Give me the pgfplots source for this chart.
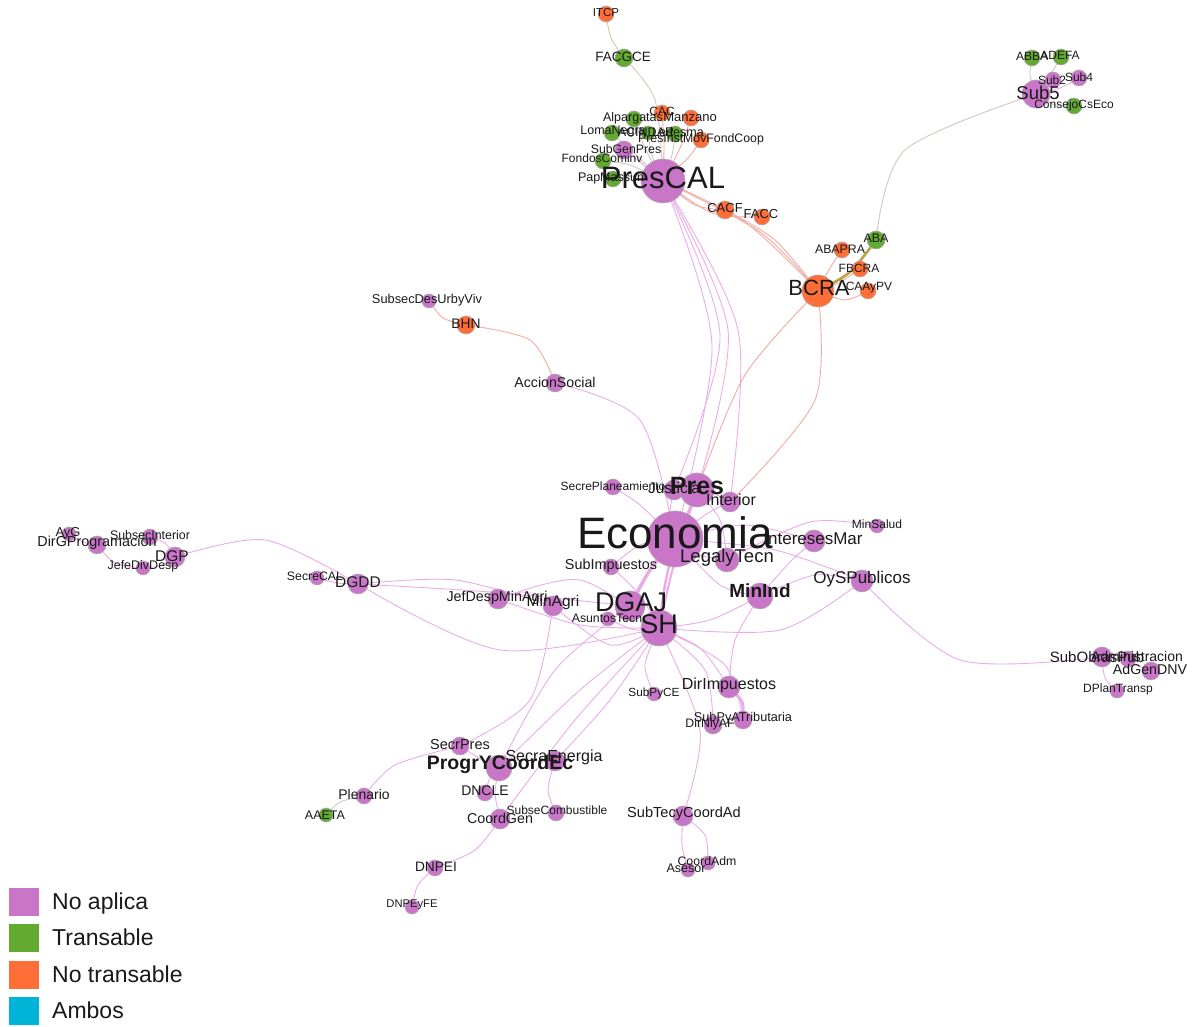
\documentclass[border=0pt]{standalone}
\usepackage{pgfplots}
\pgfplotsset{compat=1.18}
\usepackage{pgfplotstable}
\usepackage{fontspec}
\setmainfont{Liberation Sans}

\definecolor{cviolet}{RGB}{201,118,201}
\definecolor{cgreen}{RGB}{99,170,48}
\definecolor{corange}{RGB}{255,110,55}
\definecolor{ccyan}{RGB}{0,180,216}
\definecolor{cev}{RGB}{234,172,232}
\definecolor{cer}{RGB}{246,168,162}
\definecolor{ceg}{RGB}{206,201,192}
\definecolor{cey}{RGB}{218,198,152}
\definecolor{ceo}{RGB}{188,162,72}
\definecolor{labc}{RGB}{25,25,25}
\definecolor{nb}{RGB}{175,170,175}

\pgfplotstableread{
x y r
663 181 22
624 150 9
1036 94 14
1053 80 8
1079 78 8
429 301 7
555 383 9
613 487 8
674 490 10
697 490 17
730 502 10
675 539 28
727 560 12
814 541 11
877 526 7
862 581 11
760 596 13
611 567 8
630 606 15
659 628 18
608 619 7
553 606 10
498 599 10
358 584 10
317 578 7
175 557 10
150 537 8
143 568 7
97 545 9
69 534 7
1102 657 10
1128 659 8
1151 671 9
1117 691 7
729 687 11
654 694 7
743 720 9
713 725 9
460 746 9
499 768 13
555 761 10
485 793 8
500 819 10
556 813 8
364 796 8
435 868 8
412 907 7
683 816 10
708 863 7
688 870 7
}\nodesV

\pgfplotstableread{
x y r
624 58 9
634 119 8
612 133 8
648 133 7
675 134 8
603 161 8
613 179 8
1032 58 8
1061 57 8
1074 106 8
876 240 9
326 815 7
}\nodesG

\pgfplotstableread{
x y r
606 14 8
662 113 8
691 118 8
701 140 8
725 210 9
762 217 8
842 250 8
860 269 8
868 291 8
818 291 16
466 325 9
}\nodesO

\newcommand{\ed}[2]{\addplot[smooth, no markers, line width=0.9pt, color=#1] coordinates {#2};}
\newcommand{\lab}[4]{\node[anchor=center, inner sep=0pt, text=labc, font=\fontsize{#3}{#3}\selectfont] at (axis cs:#1,#2) {#4};}
\newcommand{\labb}[4]{\node[anchor=center, inner sep=0pt, text=labc, font=\bfseries\fontsize{#3}{#3}\selectfont] at (axis cs:#1,#2) {#4};}

\pgfplotsset{base/.style={width=1196pt, height=1027pt, scale only axis,
  xmin=0, xmax=1196, ymin=0, ymax=1027, y dir=reverse,
  hide axis, clip=false}}

\begin{document}
\begin{tikzpicture}
\begin{axis}[base, set layers,
  legend style={at={(axis cs:9,888)}, anchor=north west, draw=none, fill=none,
    inner sep=0pt, row sep=8.2pt,
    font=\fontsize{23}{25}\selectfont, text=labc, cells={anchor=west},
    nodes={inner sep=0pt}},
  legend image code/.code={\fill[#1, draw=none] (0pt,-14pt) rectangle (30pt,14pt); \path (43pt,0pt);},
]
\addlegendimage{fill=cviolet, draw=none}
\addlegendimage{fill=cgreen, draw=none}
\addlegendimage{fill=corange, draw=none}
\addlegendimage{fill=ccyan, draw=none}
\legend{No aplica, Transable, No transable, Ambos}
% ---- edges
\ed{cey}{(606,14) (611,38) (624,58)}
\ed{ceg}{(624,58) (655,100) (663,181)}
\ed{cer}{(663,181) (664,145) (662,113)}
\ed{cer}{(663,181) (680,148) (691,118)}
\ed{ceg}{(663,181) (645,148) (634,119)}
\ed{ceg}{(663,181) (636,155) (612,133)}
\ed{ceg}{(663,181) (652,155) (648,133)}
\ed{ceg}{(663,181) (672,155) (675,134)}
\ed{cer}{(663,181) (688,158) (701,140)}
\ed{cev}{(663,181) (640,162) (624,150)}
\ed{ceg}{(663,181) (630,165) (603,161)}
\ed{ceg}{(663,181) (638,176) (613,179)}
\ed{cer}{(663,181) (695,205) (725,210)}
\ed{cer}{(663,181) (712,213) (762,217)}
\ed{cer}{(663,181) (745,222) (818,291)}
\ed{cer}{(663,181) (760,232) (818,291)}
\ed{cer}{(725,210) (775,240) (818,291)}
\ed{cev}{(663,181) (728,330) (697,490)}
\ed{cev}{(663,181) (720,335) (674,490)}
\ed{cev}{(663,181) (712,345) (675,539)}
\ed{cev}{(663,181) (738,330) (730,502)}
\ed{cer}{(818,291) (745,375) (697,490)}
\ed{cer}{(818,291) (815,400) (730,502)}
\addplot[smooth, no markers, color=ceo, line width=2.6pt] coordinates {(818,291) (850,272) (876,240)};
\ed{cer}{(818,291) (830,268) (842,250)}
\ed{cer}{(818,291) (840,282) (860,269)}
\ed{cer}{(818,291) (845,300) (868,291)}
\ed{ceg}{(876,240) (905,150) (1036,94)}
\ed{ceg}{(1036,94) (1030,75) (1032,58)}
\ed{ceg}{(1036,94) (1050,75) (1061,57)}
\ed{cev}{(1036,94) (1046,85) (1053,80)}
\ed{cev}{(1036,94) (1060,88) (1079,78)}
\ed{ceg}{(1036,94) (1055,105) (1074,106)}
\ed{cer}{(429,301) (443,318) (466,325)}
\ed{cer}{(466,325) (530,340) (555,383)}
\ed{cev}{(555,383) (640,420) (675,539)}
\ed{cev}{(69,534) (83,542) (97,545)}
\ed{cev}{(97,545) (115,563) (143,568)}
\ed{cev}{(143,568) (160,566) (175,557)}
\ed{cev}{(150,537) (165,543) (175,557)}
\ed{cev}{(175,557) (265,540) (358,584)}
\ed{cev}{(317,578) (337,583) (358,584)}
\ed{cev}{(358,584) (455,580) (553,606)}
\ed{cev}{(358,584) (500,650) (659,628)}
\ed{cev}{(358,584) (490,592) (630,606)}
\ed{cev}{(498,599) (525,592) (553,606)}
\ed{cev}{(498,599) (580,580) (659,628)}
\ed{cev}{(498,599) (580,625) (659,628)}
\ed{cev}{(553,606) (610,645) (659,628)}
\ed{cev}{(553,606) (530,700) (460,746)}
\ed{cev}{(460,746) (395,765) (364,796)}
\ed{ceg}{(364,796) (340,802) (326,815)}
\ed{cev}{(460,746) (482,760) (499,768)}
\ed{cev}{(499,768) (580,690) (659,628)}
\ed{cev}{(499,768) (555,670) (630,606)}
\ed{cev}{(555,761) (610,700) (659,628)}
\ed{cev}{(500,819) (575,720) (659,628)}
\ed{cev}{(485,793) (490,778) (499,768)}
\ed{cev}{(500,819) (495,793) (499,768)}
\ed{cev}{(556,813) (548,790) (555,761)}
\ed{cev}{(435,868) (475,850) (500,819)}
\ed{cev}{(412,907) (418,885) (435,868)}
\ed{cev}{(659,628) (645,665) (654,694)}
\ed{cev}{(659,628) (700,648) (729,687)}
\ed{cev}{(659,628) (705,670) (713,725)}
\ed{cev}{(659,628) (725,665) (743,720)}
\addplot[smooth, no markers, color=cev, line width=3pt] coordinates {(729,687) (742,702) (743,720)};
\ed{cev}{(659,628) (700,730) (683,816)}
\ed{cev}{(683,816) (705,835) (708,863)}
\ed{cev}{(683,816) (682,845) (688,870)}
\addplot[smooth, no markers, color=cev, line width=3.5pt] coordinates {(675,539) (650,570) (630,606)};
\addplot[smooth, no markers, color=cev, line width=2.5pt] coordinates {(675,539) (665,585) (659,628)};
\addplot[smooth, no markers, color=cev, line width=2pt] coordinates {(697,490) (675,560) (659,628)};
\addplot[smooth, no markers, color=cev, line width=2pt] coordinates {(675,539) (688,512) (697,490)};
\ed{cev}{(675,539) (670,512) (674,490)}
\ed{cev}{(675,539) (705,515) (730,502)}
\ed{cev}{(675,539) (700,555) (727,560)}
\ed{cev}{(675,539) (745,525) (814,541)}
\ed{cev}{(675,539) (775,550) (862,581)}
\ed{cev}{(675,539) (720,585) (760,596)}
\ed{cev}{(675,539) (640,545) (611,567)}
\ed{cev}{(675,539) (640,505) (613,487)}
\ed{cev}{(611,567) (640,595) (659,628)}
\ed{cev}{(608,619) (635,630) (659,628)}
\ed{cev}{(760,596) (790,562) (814,541)}
\ed{cev}{(760,596) (815,575) (862,581)}
\ed{cev}{(659,628) (710,620) (760,596)}
\ed{cev}{(659,628) (780,630) (862,581)}
\ed{cev}{(877,526) (810,522) (727,560)}
\ed{cev}{(862,581) (960,660) (1102,657)}
\ed{cev}{(1102,657) (1128,662) (1151,671)}
\ed{cev}{(1102,657) (1105,678) (1117,691)}
\ed{cev}{(1102,657) (1115,655) (1128,659)}
\ed{cev}{(760,596) (735,640) (729,687)}
\ed{cev}{(697,490) (720,520) (727,560)}
\ed{cev}{(697,490) (713,493) (730,502)}

% ---- nodes
\addplot[scatter, only marks, mark=*, line width=0.6pt,
  scatter/use mapped color={draw=nb, fill=cviolet},
  visualization depends on={\thisrow{r}\as\myrad},
  scatter/@pre marker code/.append style={/tikz/mark size=\myrad}] table[x=x,y=y] {\nodesV};
\addplot[scatter, only marks, mark=*, line width=0.6pt,
  scatter/use mapped color={draw=nb, fill=cgreen},
  visualization depends on={\thisrow{r}\as\myrad},
  scatter/@pre marker code/.append style={/tikz/mark size=\myrad}] table[x=x,y=y] {\nodesG};
\addplot[scatter, only marks, mark=*, line width=0.6pt,
  scatter/use mapped color={draw=nb, fill=corange},
  visualization depends on={\thisrow{r}\as\myrad},
  scatter/@pre marker code/.append style={/tikz/mark size=\myrad}] table[x=x,y=y] {\nodesO};

% ---- labels (on top of the nodes)
\begin{pgfonlayer}{axis foreground}
\lab{606}{13}{11.5}{ITCP}
\lab{623}{57}{13.5}{FACGCE}
\lab{662}{111}{12}{CAC}
\lab{633}{118}{12.5}{Alpargatas}
\lab{690}{117}{13}{Manzano}
\lab{613}{132}{12.5}{LomaNegra}
\lab{646}{132}{12.5}{ACINDAR}
\lab{678}{132}{12.5}{Ledesma}
\lab{701}{139}{12.3}{PresInstMovFondCoop}
\lab{626}{149}{12.3}{SubGenPres}
\lab{602}{158}{12}{FondosCominv}
\lab{611}{179}{12.5}{PapMassun}
\lab{663}{178}{31}{PresCAL}
\lab{725}{208}{13}{CACF}
\lab{761}{214}{13}{FACC}
\lab{1032}{56}{12}{ABBA}
\lab{1060}{55}{12}{ADEFA}
\lab{1052}{80}{12}{Sub2}
\lab{1079}{77}{12}{Sub4}
\lab{1038}{93}{18.5}{Sub5}
\lab{1074}{105}{12}{ConsejoCsEco}
\lab{876}{238}{12.5}{ABA}
\lab{840}{249}{12.3}{ABAPRA}
\lab{859}{268}{12}{FBCRA}
\lab{869}{288}{12}{CAAyPV}
\lab{819}{288}{22}{BCRA}
\lab{427}{300}{12.8}{SubsecDesUrbyViv}
\lab{466}{324}{13.8}{BHN}
\lab{555}{382}{14.2}{AccionSocial}
\lab{613}{486}{12}{SecrePlaneamiento}
\lab{674}{488}{15.6}{Justicia}
\lab{731}{500}{16}{Interior}
\lab{675}{533}{44}{Economia}
\lab{727}{558}{18.5}{LegalyTecn}
\lab{813}{539}{17}{InteresesMar}
\lab{877}{524}{12}{MinSalud}
\lab{862}{579}{17}{OySPublicos}
\lab{611}{566}{14.4}{SubImpuestos}
\lab{631}{602}{27}{DGAJ}
\lab{659}{624}{27}{SH}
\lab{607}{618}{12.3}{AsuntosTecn}
\lab{553}{603}{15.5}{MinAgri}
\lab{497}{598}{14.3}{JefDespMinAgri}
\lab{358}{582}{15.5}{DGDD}
\lab{315}{576}{12.3}{SecreCAL}
\lab{172}{556}{15.5}{DGP}
\lab{150}{535}{12.4}{SubsecInterior}
\lab{143}{566}{12.5}{JefeDivDesp}
\lab{97}{543}{14.4}{DirGProgramacion}
\lab{68}{533}{12.9}{AyG}
\lab{1097}{657}{15}{SubObrasPub}
\lab{1137}{657}{14}{Administracion}
\lab{1150}{669}{14.2}{AdGenDNV}
\lab{1118}{689}{12}{DPlanTransp}
\lab{729}{685}{16}{DirImpuestos}
\lab{654}{693}{11.8}{SubPyCE}
\lab{743}{718}{12.7}{SubPyATributaria}
\lab{710}{724}{12.3}{DirNiyAF}
\lab{460}{745}{14.5}{SecrPres}
\lab{554}{757}{16}{SecraEnergia}
\lab{485}{791}{14}{DNCLE}
\lab{500}{818}{14.3}{CoordGen}
\lab{557}{810}{12}{SubseCombustible}
\lab{364}{795}{14}{Plenario}
\lab{325}{815}{12.5}{AAETA}
\lab{436}{867}{13.7}{DNPEI}
\lab{412}{905}{11.2}{DNPEyFE}
\lab{684}{814}{14.6}{SubTecyCoordAd}
\lab{707}{861}{12.3}{CoordAdm}
\lab{686}{868}{12.5}{Asesor}
\labb{697}{486}{25}{Pres}
\labb{760}{591}{19}{MinInd}
\labb{500}{765}{19.5}{ProgrYCoordEc}
\end{pgfonlayer}
\end{axis}
\pgfresetboundingbox
\path[use as bounding box] (current axis.south west) rectangle (current axis.north east);
\end{tikzpicture}
\end{document}
